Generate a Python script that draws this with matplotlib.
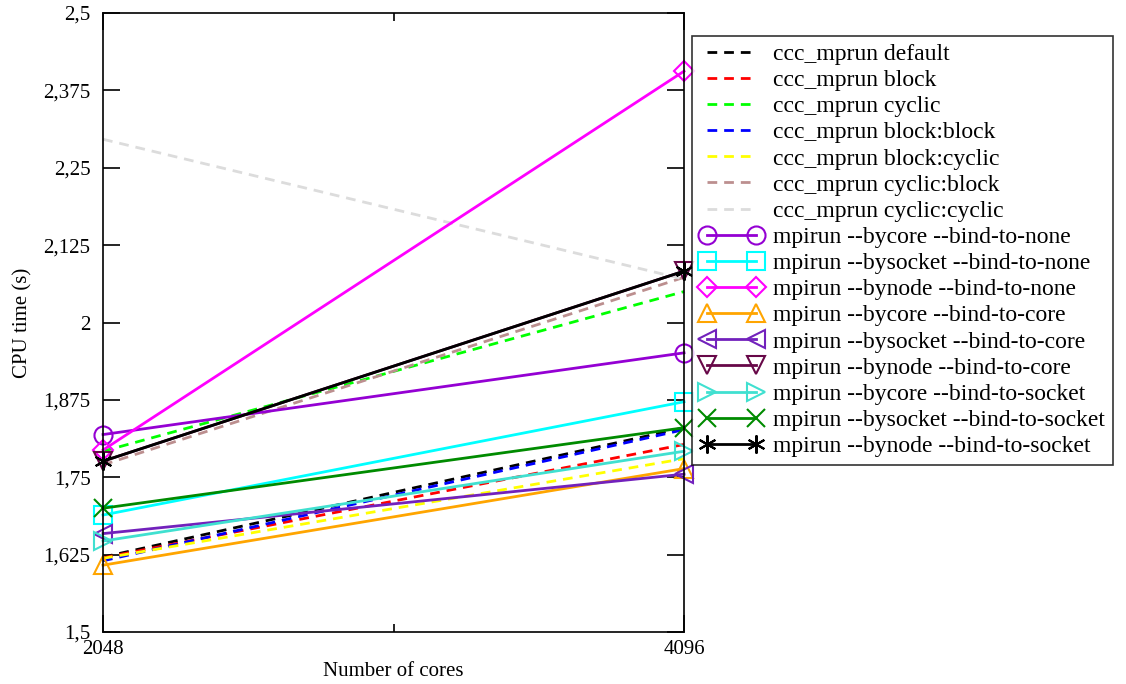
import matplotlib
matplotlib.use("Agg")
import matplotlib.pyplot as plt
from matplotlib.ticker import FixedLocator

cores = [2048, 4096]

labels = [
    "ccc_mprun default", "ccc_mprun block", "ccc_mprun cyclic",
    "ccc_mprun block:block", "ccc_mprun block:cyclic",
    "ccc_mprun cyclic:block", "ccc_mprun cyclic:cyclic",
    "mpirun --bycore --bind-to-none", "mpirun --bysocket --bind-to-none",
    "mpirun --bynode --bind-to-none", "mpirun --bycore --bind-to-core",
    "mpirun --bysocket --bind-to-core", "mpirun --bynode --bind-to-core",
    "mpirun --bycore --bind-to-socket", "mpirun --bysocket --bind-to-socket",
    "mpirun --bynode --bind-to-socket",
]

ccc_default = [1.621, 1.830]
ccc_block = [1.620, 1.803]
ccc_cyclic = [1.792, 2.050]
ccc_block_block = [1.615, 1.827]
ccc_block_cyclic = [1.619, 1.780]
ccc_cyclic_block = [1.770, 2.073]
ccc_cyclic_cyclic = [2.296, 2.070]
mpi_bycore_none = [1.819, 1.951]
mpi_bysocket_none = [1.689, 1.872]
mpi_bynode_none = [1.794, 2.406]
mpi_bycore_core = [1.608, 1.764]
mpi_bysocket_core = [1.659, 1.755]
mpi_bynode_core = [1.776, 2.083]
mpi_bycore_socket = [1.647, 1.792]
mpi_bysocket_socket = [1.700, 1.830]
mpi_bynode_socket = [1.776, 2.083]

series = [ccc_default, ccc_block, ccc_cyclic, ccc_block_block, ccc_block_cyclic,
          ccc_cyclic_block, ccc_cyclic_cyclic, mpi_bycore_none, mpi_bysocket_none,
          mpi_bynode_none, mpi_bycore_core, mpi_bysocket_core, mpi_bynode_core,
          mpi_bycore_socket, mpi_bysocket_socket, mpi_bynode_socket]

y_ticks = [1.5, 1.625, 1.75, 1.875, 2.0, 2.125, 2.25, 2.375, 2.5]
y_tick_labels = ["1,5", "1,625", "1,75", "1,875", "2", "2,125", "2,25", "2,375", "2,5"]

colors = ["#000000", "#ff0000", "#00ff00", "#0000ff", "#ffff00", "#bc8f8f", "#dcdcdc",
          "#9400d3", "#00ffff", "#ff00ff", "#ffa500", "#7221bc", "#670748",
          "#40e0d0", "#008b00", "#000000"]
markers = [None] * 7 + ["o", "s", "D", "^", "<", "v", ">", "x", (6, 2, 0)]

plt.rcParams['font.family'] = ['Liberation Serif', 'DejaVu Serif']

fig = plt.figure(figsize=(11.26, 6.84), dpi=100)
ax = fig.add_axes([0.0915, 0.076, 0.516, 0.905])

for i, (lab, ys) in enumerate(zip(labels, series)):
    if markers[i] is None:
        ax.plot(cores, ys, color=colors[i], lw=2, linestyle=(0, (3.5, 2.5)), label=lab,
                clip_on=False)
    else:
        ms = 10 if markers[i] == "D" else 13
        ax.plot(cores, ys, color=colors[i], lw=2, marker=markers[i], markersize=ms,
                markerfacecolor="none", markeredgecolor=colors[i], markeredgewidth=1.5,
                label=lab, clip_on=False)

ax.set_xlim(2048, 4096)
ax.set_ylim(1.5, 2.5)
ax.set_xticks([2048, 4096])
ax.set_xticklabels(["2048", "4096"])
ax.xaxis.set_minor_locator(FixedLocator([3072]))
ax.set_yticks(y_ticks)
ax.set_yticklabels(y_tick_labels)
ax.tick_params(which="major", direction="in", length=12, width=1.2, labelsize=15,
               top=True, right=True)
ax.tick_params(axis="y", which="major", pad=9)
ax.tick_params(axis="x", which="major", pad=6)
ax.tick_params(which="minor", direction="in", length=6, width=1.2, top=True)
for s in ax.spines.values():
    s.set_linewidth(1.2)
ax.set_xlabel("Number of cores", fontsize=15, labelpad=2)
ax.set_ylabel("CPU time (s)", fontsize=15, labelpad=8)

leg = fig.legend(loc="upper left", bbox_to_anchor=(0.6145, 0.948), fontsize=17,
                 numpoints=2, handlelength=2.7, frameon=True, fancybox=False,
                 edgecolor="black", borderpad=0.33, labelspacing=0.196, handletextpad=0.4,
                 borderaxespad=0)
leg.get_frame().set_linewidth(1.2)

fig.savefig("out.png", dpi=100)
